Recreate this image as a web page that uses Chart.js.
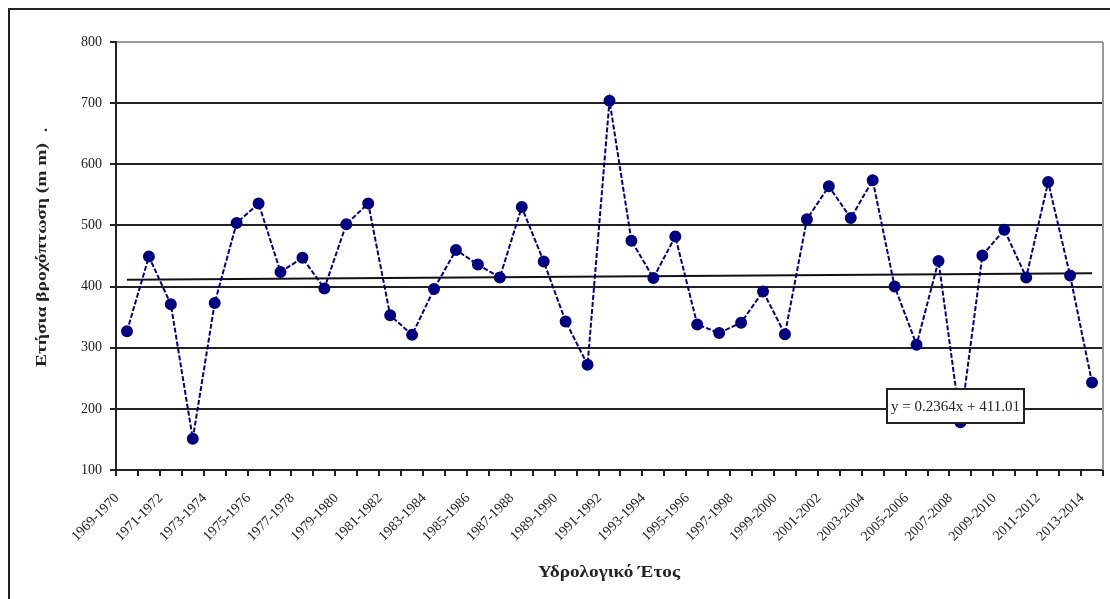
<!DOCTYPE html>
<html>
<head>
<meta charset="utf-8">
<script src="https://cdn.jsdelivr.net/npm/chart.js@4.4.1/dist/chart.umd.min.js"></script>
<style>
html,body{margin:0;padding:0;background:#fff;overflow:hidden}
#wrap{position:relative;width:1110px;height:599px}
#frame{position:absolute;left:8px;top:8px;width:1200px;height:700px;border:2px solid #222;box-sizing:border-box}
canvas{position:absolute;left:0;top:0}
</style>
</head>
<body>
<div id="wrap">
  <div id="frame"></div>
  <canvas id="chart" width="1110" height="599"></canvas>
</div>
<script>
// ---- данные ----
const YEARS = [
  "1969-1970","1970-1971","1971-1972","1972-1973","1973-1974","1974-1975","1975-1976","1976-1977","1977-1978",
  "1978-1979","1979-1980","1980-1981","1981-1982","1982-1983","1983-1984","1984-1985","1985-1986","1986-1987",
  "1987-1988","1988-1989","1989-1990","1990-1991","1991-1992","1992-1993","1993-1994","1994-1995","1995-1996",
  "1996-1997","1997-1998","1998-1999","1999-2000","2000-2001","2001-2002","2002-2003","2003-2004","2004-2005",
  "2005-2006","2006-2007","2007-2008","2008-2009","2009-2010","2010-2011","2011-2012","2012-2013","2013-2014"
];
const RAIN = [
  327, 449, 371, 151, 373, 504, 536, 424, 447,
  397, 502, 536, 353, 321, 396, 460, 436, 415,
  530, 441, 343, 272, 704, 475, 414, 482, 338,
  324, 341, 392, 322, 510, 564, 512, 574, 400,
  305, 442, 178, 451, 493, 415, 571, 418, 243
];
// γραμμή τάσης y = 0.2364x + 411.01, τιμές στο πρώτο και τελευταίο έτος
const TREND = [411.2, 421.6];
const Y_MIN = 100, Y_MAX = 800, Y_STEP = 100;

const Y_TITLE = "Ετήσια βροχόπτωση (m m)";
const X_TITLE = "Υδρολογικό Έτος";
const EQ_TEXT = "y = 0.2364x + 411.01";

const INK = "#222";
const NAVY = "#000080";
const SERIF = "'Liberation Serif','Times New Roman',serif";

// растянутый текст: ширина подгоняется под w
function wideText(ctx, text, x, y, w, font, rot){
  ctx.save();
  ctx.translate(x, y);
  if(rot) ctx.rotate(rot);
  ctx.font = font;
  const m = ctx.measureText(text).width;
  ctx.scale(w/m, 1);
  ctx.textAlign = "center";
  ctx.textBaseline = "middle";
  ctx.fillText(text, 0, 0);
  ctx.restore();
}

const decor = {
  id: "decor",
  beforeDatasetsDraw(chart){
    const {ctx, chartArea:a} = chart;
    ctx.save();
    ctx.strokeStyle = "#9a9a9a";
    ctx.lineWidth = 2;
    ctx.beginPath();
    ctx.moveTo(a.right, a.top);
    ctx.lineTo(a.right, a.bottom);
    ctx.stroke();
    ctx.restore();
  },
  afterDraw(chart){
    const {ctx, chartArea:a} = chart;
    ctx.save();
    ctx.fillStyle = INK;
    // axis titles
    wideText(ctx, Y_TITLE, 42, 255, 224, "bold 15px "+SERIF, -Math.PI/2);
    wideText(ctx, ".", 43, 130, 4, "bold 15px "+SERIF, -Math.PI/2);
    wideText(ctx, X_TITLE, 609, 573, 142, "bold 16px "+SERIF, 0);
    // equation box
    const bx = a.right - 216, by = 389, bw = 137, bh = 34;
    ctx.fillStyle = "#fff";
    ctx.fillRect(bx, by, bw, bh);
    ctx.strokeStyle = INK;
    ctx.lineWidth = 2;
    ctx.strokeRect(bx, by, bw, bh);
    ctx.fillStyle = INK;
    wideText(ctx, EQ_TEXT, bx + bw/2, by + bh/2 + 1, 129, "14px "+SERIF, 0);
    ctx.restore();
  }
};

new Chart(document.getElementById("chart"), {
  type: "line",
  data: {
    labels: YEARS,
    datasets: [
      {
        label: "Ετήσια βροχόπτωση",
        data: RAIN,
        borderColor: NAVY,
        backgroundColor: NAVY,
        borderWidth: 2,
        borderDash: [5, 2],
        pointRadius: 5,
        pointBackgroundColor: NAVY,
        pointBorderColor: NAVY,
        tension: 0,
        order: 1
      },
      {
        label: "Γραμμική τάση",
        data: [{x: YEARS[0], y: TREND[0]}, {x: YEARS[YEARS.length-1], y: TREND[1]}],
        borderColor: "#111",
        borderWidth: 2,
        pointRadius: 0,
        order: 2
      }
    ]
  },
  options: {
    responsive: false,
    animation: false,
    events: [],
    layout: { padding: { top: 42, right: 7, left: 0, bottom: 0 } },
    plugins: { legend: { display: false }, tooltip: { enabled: false } },
    scales: {
      x: {
        offset: true,
        afterFit(s){ s.height = 129; s.paddingLeft = 0; s.paddingRight = 0; },
        border: { display: true, color: INK, width: 2 },
        grid: { offset: true, drawOnChartArea: false, drawTicks: true, tickLength: 6, color: INK, lineWidth: 2 },
        ticks: {
          autoSkip: false, maxRotation: 45, minRotation: 45, padding: 14, labelOffset: -10,
          color: INK, font: { family: SERIF, size: 14 },
          callback: (v, i) => i % 2 === 0 ? YEARS[i] : ""
        }
      },
      y: {
        min: Y_MIN, max: Y_MAX,
        afterFit(s){ s.width = 116; },
        border: { display: true, color: INK, width: 2 },
        grid: {
          color: c => c.tick && c.tick.value === Y_MAX ? "#9a9a9a" : INK,
          tickColor: INK, lineWidth: 2, tickLength: 6
        },
        ticks: { stepSize: Y_STEP, padding: 8, color: INK, font: { family: SERIF, size: 14 } }
      }
    }
  },
  plugins: [decor]
});
</script>
</body>
</html>
